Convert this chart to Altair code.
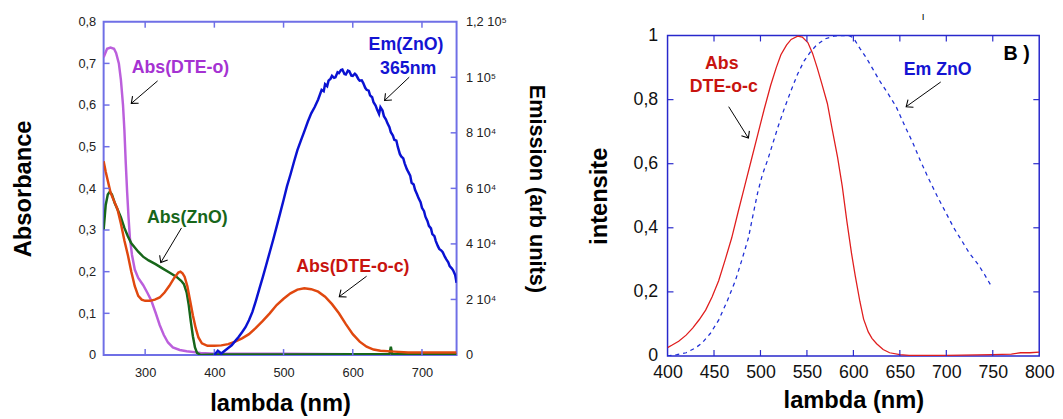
import math
import altair as alt
import pandas as pd

FONT = "Liberation Sans"

# ---------------- Left panel data ----------------
dteo_x = [240, 245, 250, 255, 258, 262, 265, 268, 270, 272, 274, 276, 278, 281, 285, 290, 297, 303, 309, 315, 321, 327, 333, 340, 350, 360, 380, 400, 500, 600, 750]
dteo_y = [0.715, 0.735, 0.738, 0.735, 0.725, 0.70, 0.66, 0.60, 0.54, 0.46, 0.39, 0.33, 0.28, 0.24, 0.205, 0.185, 0.168, 0.15, 0.13, 0.102, 0.072, 0.048, 0.03, 0.018, 0.012, 0.009, 0.005, 0.003, 0.003, 0.002, 0.002]

zno_x = [240, 243, 246, 249, 252, 256, 260, 265, 270, 275, 280, 285, 290, 297, 305, 315, 325, 335, 345, 352, 356, 360, 363, 366, 369, 372, 375, 380, 400, 500, 600, 653, 655, 657, 700, 750]
zno_y = [0.30, 0.36, 0.385, 0.392, 0.385, 0.365, 0.35, 0.33, 0.305, 0.285, 0.268, 0.258, 0.248, 0.236, 0.227, 0.218, 0.208, 0.198, 0.188, 0.178, 0.17, 0.15, 0.12, 0.08, 0.045, 0.018, 0.005, 0.0, 0.001, 0.001, 0.002, 0.002, 0.02, 0.002, 0.002, 0.002]

dteoc_x = [240, 243, 250, 255, 260, 265, 270, 275, 280, 285, 290, 295, 300, 307, 314, 321, 328, 335, 342, 348, 351, 354, 357, 361, 365, 369, 373, 377, 382, 390, 400, 410, 420, 430, 440, 450, 460, 470, 480, 490, 500, 510, 520, 530, 540, 550, 560, 570, 580, 590, 600, 610, 620, 630, 640, 660, 680, 700, 750]
dteoc_y = [0.465, 0.44, 0.39, 0.37, 0.35, 0.315, 0.275, 0.24, 0.2, 0.165, 0.142, 0.133, 0.13, 0.13, 0.133, 0.138, 0.15, 0.166, 0.185, 0.198, 0.2, 0.196, 0.188, 0.165, 0.13, 0.095, 0.065, 0.042, 0.028, 0.022, 0.022, 0.023, 0.026, 0.032, 0.04, 0.05, 0.065, 0.082, 0.1, 0.12, 0.135, 0.148, 0.157, 0.16, 0.158, 0.152, 0.14, 0.122, 0.1, 0.074, 0.05, 0.032, 0.02, 0.013, 0.01, 0.008, 0.006, 0.006, 0.006]

em_x = [400, 405, 410, 415, 420, 425, 430, 435, 440, 445, 450, 455, 460, 465, 470, 475, 480, 485, 490, 495, 500, 505, 510, 515, 520, 525, 530, 535, 540, 545, 550, 555, 558, 560, 563, 565, 568, 570, 573, 575, 578, 580, 583, 585, 588, 590, 593, 595, 598, 600, 603, 605, 608, 610, 613, 615, 618, 620, 623, 625, 628, 630, 633, 635, 638, 640, 643, 645, 648, 650, 653, 655, 658, 660, 663, 665, 668, 670, 673, 675, 678, 680, 683, 685, 688, 690, 693, 695, 698, 700, 703, 705, 708, 710, 713, 715, 718, 720, 723, 725, 728, 730, 733, 735, 738, 740, 743, 745, 748, 750]
em_y = [0, 1500, 500, 1500, 2500, 3500, 5000, 6500, 8200, 10000, 12500, 15500, 19500, 23800, 28000, 32500, 37000, 41500, 46200, 51000, 55800, 60800, 65000, 69500, 73800, 77200, 80500, 84000, 87000, 89300, 92000, 95500, 95000, 97500, 96800, 98800, 99500, 100500, 99800, 100000, 101800, 101500, 102600, 102800, 101200, 101000, 102400, 102200, 100600, 100500, 101300, 100800, 99400, 98800, 98900, 98000, 96200, 95500, 95200, 93500, 92800, 91000, 89800, 88500, 86800, 89200, 88000, 86000, 84800, 83500, 82000, 80200, 79000, 77500, 77200, 75000, 72400, 71500, 70800, 69000, 67000, 66000, 64600, 62000, 61400, 59500, 57800, 56500, 55000, 53000, 51800, 49800, 48200, 46500, 45600, 43500, 42800, 41000, 39200, 38200, 37600, 37000, 35400, 34500, 33400, 32000, 31200, 30500, 28800, 26000]

# ---------------- Right panel data ----------------
nabs_x = [400, 405, 412, 420, 427, 434, 441, 448, 455, 462, 469, 476, 483, 490, 497, 504, 511, 517, 522, 528, 533, 540, 545, 551, 556, 561, 566, 572, 577, 583, 588, 593, 598, 602, 607, 611, 616, 620, 625, 632, 639, 650, 660, 700, 750, 770, 780, 790, 800]
nabs_y = [0.026, 0.034, 0.046, 0.065, 0.087, 0.113, 0.143, 0.185, 0.235, 0.3, 0.368, 0.45, 0.53, 0.61, 0.69, 0.77, 0.845, 0.9, 0.94, 0.97, 0.988, 0.998, 0.995, 0.978, 0.945, 0.9, 0.85, 0.788, 0.71, 0.62, 0.53, 0.42, 0.32, 0.25, 0.17, 0.115, 0.075, 0.055, 0.038, 0.02, 0.01, 0.004, 0.002, 0.002, 0.004, 0.006, 0.01, 0.01, 0.012]

nem_x = [400, 410, 420, 430, 437, 446, 455, 464, 473, 480, 487, 492, 497, 502, 508, 514, 519, 526, 533, 540, 547, 554, 561, 570, 579, 588, 596, 600, 607, 614, 621, 628, 637, 646, 655, 664, 672, 681, 690, 699, 708, 717, 725, 734, 741, 748]
nem_y = [0.0, 0.004, 0.01, 0.025, 0.04, 0.07, 0.112, 0.17, 0.235, 0.3, 0.368, 0.44, 0.51, 0.565, 0.614, 0.67, 0.716, 0.775, 0.829, 0.88, 0.921, 0.95, 0.972, 0.99, 0.998, 1.0, 0.999, 0.993, 0.96, 0.93, 0.895, 0.86, 0.82, 0.778, 0.72, 0.665, 0.61, 0.553, 0.5, 0.45, 0.4, 0.358, 0.32, 0.287, 0.255, 0.22]

# tick values
left_xticks = [300, 400, 500, 600, 700]
left_yticks = [0.1, 0.2, 0.3, 0.4, 0.5, 0.6, 0.7]
em_ticks = [20000, 40000, 60000, 80000, 100000]
em_labels = {0: "0", 20000: "2 10⁴", 40000: "4 10⁴", 60000: "6 10⁴", 80000: "8 10⁴", 100000: "1 10⁵", 120000: "1,2 10⁵"}
right_xticks = [450, 500, 550, 600, 650, 700, 750]
right_yticks = [0.2, 0.4, 0.6, 0.8]

# annotations (data coordinates)
left_txt = ["Abs(DTE-o)", "Abs(ZnO)", "Em(ZnO)", "365nm", "Abs(DTE-o-c)"]
left_txt_x = [351, 361, 677, 680, 600]
left_txt_y = [0.689, 0.329, 0.743, 0.686, 0.211]
left_txt_c = ["#a532d2", "#17661a", "#1414d2", "#1414d2", "#c8140f"]
left_arr_x1 = [318, 352.5, 681.6, 620]
left_arr_y1 = [0.658, 0.305, 0.667, 0.189]
left_arr_x2 = [280, 322.6, 646, 580.5]
left_arr_y2 = [0.604, 0.222, 0.611, 0.140]

right_txt = ["Abs", "DTE-o-c", "Em ZnO", "B )", "I"]
right_txt_x = [458.4, 460.5, 690.7, 775.6, 675]
right_txt_y = [0.910, 0.839, 0.892, 0.941, 1.057]
right_txt_c = ["#c8140f", "#c8140f", "#1414d2", "#000000", "#000000"]
right_txt_s = [18, 18, 18, 20, 10]
right_txt_w = ["bold", "bold", "bold", "bold", "normal"]
right_arr_x1 = [465.8, 694]
right_arr_y1 = [0.778, 0.855]
right_arr_x2 = [487, 656.8]
right_arr_y2 = [0.680, 0.778]

# ---------------- geometry ----------------
LW, LH = 358, 338
RW = 377
RTOP, RBOT = 14, 339      # right plot frame inside its cell (top aligned with left panel)
RH = RBOT - RTOP
LX = [240, 750]
LY = [0, 0.8]
EY = [0, 120000]
RX = [400, 800]
RY = [0, 1]
LFRAME = "#6f6fe6"
RFRAME = "#2828cc"
TICK = 6

def angles(x1, y1, x2, y2, sx, sy):
    out = []
    for a, b, c, d in zip(x1, y1, x2, y2):
        dx = (c - a) * sx
        dy = -(d - b) * sy
        out.append(math.degrees(math.atan2(dx, -dy)) % 360)
    return out

lab_common = dict(labelFont=FONT, titleFont=FONT, titleFontWeight="bold", titleColor="#000",
                  labelColor="#222", ticks=False, domain=False, grid=False, labelFlush=False)

# ---------- left panel ----------
lx_axis = alt.Axis(values=left_xticks, title="lambda (nm)", labelFontSize=13, titleFontSize=24,
                   labelPadding=12, titlePadding=12, **lab_common)
ly_axis = alt.Axis(values=[0, 0.1, 0.2, 0.3, 0.4, 0.5, 0.6, 0.7, 0.8], title="Absorbance",
                   labelFontSize=13, titleFontSize=24, labelPadding=8, titlePadding=43,
                   labelExpr="datum.value == 0 ? '0' : replace(format(datum.value, '.1f'), '.', ',')",
                   **lab_common)
lxs = alt.Scale(domain=LX, nice=False, zero=False)
lys = alt.Scale(domain=LY, nice=False)

def LXe(f):
    return alt.X(f, type="quantitative", scale=lxs, axis=lx_axis)

def LYe(f):
    return alt.Y(f, type="quantitative", scale=lys, axis=ly_axis)

def line(xv, yv, color, width, xs_fn, ys_fn, dash=None):
    df = pd.DataFrame({"x": xv, "y": yv})
    kw = dict(color=color, strokeWidth=width, clip=True)
    if dash:
        kw["strokeDash"] = dash
    return alt.Chart(df).mark_line(**kw).encode(x=xs_fn("x"), y=ys_fn("y"))

l_dteo = line(dteo_x, dteo_y, "#bb5fdc", 2.5, LXe, LYe)
l_zno = line(zno_x, zno_y, "#17661a", 2.5, LXe, LYe)
l_dteoc = line(dteoc_x, dteoc_y, "#e0480f", 2.5, LXe, LYe)

ltx = pd.DataFrame({"x": left_xticks})
l_ticks_b = alt.Chart(ltx).mark_rule(color=LFRAME, strokeWidth=1.5).encode(
    x=LXe("x"), y=alt.value(LH), y2=alt.value(LH - TICK))
l_ticks_t = alt.Chart(ltx).mark_rule(color=LFRAME, strokeWidth=1.5).encode(
    x=LXe("x"), y=alt.value(0), y2=alt.value(TICK))
lty = pd.DataFrame({"y": left_yticks})
l_ticks_l = alt.Chart(lty).mark_rule(color=LFRAME, strokeWidth=1.5).encode(
    y=LYe("y"), x=alt.value(0), x2=alt.value(TICK))

ltxt = pd.DataFrame({"t": left_txt, "x": left_txt_x, "y": left_txt_y, "c": left_txt_c})
l_text = alt.Chart(ltxt).mark_text(font=FONT, fontSize=18, fontWeight="bold", baseline="middle", align="center").encode(
    x=LXe("x"), y=LYe("y"), text="t:N", color=alt.Color("c:N", scale=None))

larr = pd.DataFrame({"x": left_arr_x1, "y": left_arr_y1, "x2": left_arr_x2, "y2": left_arr_y2,
                     "a": angles(left_arr_x1, left_arr_y1, left_arr_x2, left_arr_y2, LW / 510, LH / 0.8)})
l_arr = alt.Chart(larr).mark_rule(color="#000", strokeWidth=1).encode(
    x=LXe("x"), y=LYe("y"), x2="x2:Q", y2="y2:Q")
l_head = alt.Chart(larr).mark_point(shape="M -1 1.2 L 0 0 L 1 1.2", size=90, filled=False, color="#000", strokeWidth=1.1, opacity=1).encode(
    x=LXe("x2"), y=LYe("y2"), angle=alt.Angle("a:Q", scale=None))

inner_left = alt.layer(l_dteo, l_zno, l_dteoc, l_ticks_b, l_ticks_t, l_ticks_l, l_arr, l_head, l_text)

em_expr = " : ".join([f"datum.value == {k} ? '{v}'" for k, v in em_labels.items()]) + " : ''"
ey_axis = alt.Axis(values=list(em_labels.keys()), orient="right", title="Emission (arb units)",
                   labelFontSize=13, titleFontSize=22, labelPadding=9, titlePadding=18,
                   labelExpr=em_expr, **lab_common)
eys = alt.Scale(domain=EY, nice=False)

def EYe(f):
    return alt.Y(f, type="quantitative", scale=eys, axis=ey_axis)

l_em = line(em_x, em_y, "#0a12d2", 2.5, LXe, EYe)
e_ticks = alt.Chart(pd.DataFrame({"y": em_ticks})).mark_rule(color=LFRAME, strokeWidth=1.5).encode(
    y=EYe("y"), x=alt.value(LW - TICK), x2=alt.value(LW))

em_layer = alt.layer(l_em, e_ticks)

left = alt.layer(inner_left, em_layer).resolve_scale(y="independent").properties(
    width=LW, height=LH, view=alt.ViewBackground(stroke=LFRAME, strokeWidth=2))

# ---------- right panel ----------
rx_axis = alt.Axis(values=[400, 450, 500, 550, 600, 650, 700, 750, 800], title="lambda (nm)", labelFontSize=18,
                   titleFontSize=24, labelPadding=8, titlePadding=7, labelColor="#111", labelFont=FONT,
                   titleFont=FONT, titleFontWeight="bold", titleColor="#000", ticks=False, domain=False,
                   grid=False, labelFlush=False)
ry_axis = alt.Axis(values=[0, 0.2, 0.4, 0.6, 0.8, 1], title="intensite", labelFontSize=18, titleFontSize=24,
                   labelPadding=10, titlePadding=22, labelColor="#111", labelFont=FONT, titleFont=FONT,
                   titleFontWeight="bold", titleColor="#000", ticks=False, domain=False, grid=False,
                   labelFlush=False,
                   labelExpr="datum.value == 0 ? '0' : datum.value == 1 ? '1' : replace(format(datum.value, '.1f'), '.', ',')")
rxs = alt.Scale(domain=RX, nice=False, zero=False)
rys = alt.Scale(domain=RY, nice=False, range=[RBOT, RTOP])

def RXe(f):
    return alt.X(f, type="quantitative", scale=rxs, axis=rx_axis)

def RYe(f):
    return alt.Y(f, type="quantitative", scale=rys, axis=ry_axis)

r_abs = line(nabs_x, nabs_y, "#e01e1e", 1.3, RXe, RYe)
r_em = line(nem_x, nem_y, "#1f2fd6", 1.3, RXe, RYe, dash=[4, 4])

r_frame = alt.Chart(pd.DataFrame({"k": [0]})).mark_rect(filled=False, stroke=RFRAME, strokeWidth=1.5).encode(
    x=alt.value(0), x2=alt.value(RW), y=alt.value(RTOP), y2=alt.value(RBOT))

rtx = pd.DataFrame({"x": right_xticks})
rty = pd.DataFrame({"y": right_yticks})
r_tb = alt.Chart(rtx).mark_rule(color=RFRAME, strokeWidth=1.2).encode(x=RXe("x"), y=alt.value(RBOT), y2=alt.value(RBOT - TICK))
r_tt = alt.Chart(rtx).mark_rule(color=RFRAME, strokeWidth=1.2).encode(x=RXe("x"), y=alt.value(RTOP), y2=alt.value(RTOP + TICK))
r_tl = alt.Chart(rty).mark_rule(color=RFRAME, strokeWidth=1.2).encode(y=RYe("y"), x=alt.value(0), x2=alt.value(TICK))
r_tr = alt.Chart(rty).mark_rule(color=RFRAME, strokeWidth=1.2).encode(y=RYe("y"), x=alt.value(RW - TICK), x2=alt.value(RW))

rtxt = pd.DataFrame({"t": right_txt, "x": right_txt_x, "y": right_txt_y, "c": right_txt_c,
                     "s": right_txt_s, "w": right_txt_w})
r_text_b = alt.Chart(rtxt[rtxt.w == "bold"]).mark_text(font=FONT, fontWeight="bold", baseline="middle", align="center").encode(
    x=RXe("x"), y=RYe("y"), text="t:N", color=alt.Color("c:N", scale=None), size=alt.Size("s:Q", scale=None))
r_text_n = alt.Chart(rtxt[rtxt.w == "normal"]).mark_text(font=FONT, fontSize=10, baseline="middle", align="center").encode(
    x=RXe("x"), y=RYe("y"), text="t:N", color=alt.Color("c:N", scale=None))

rarr = pd.DataFrame({"x": right_arr_x1, "y": right_arr_y1, "x2": right_arr_x2, "y2": right_arr_y2,
                     "a": angles(right_arr_x1, right_arr_y1, right_arr_x2, right_arr_y2, RW / 400, RH / 1)})
r_arr = alt.Chart(rarr).mark_rule(color="#000", strokeWidth=1).encode(x=RXe("x"), y=RYe("y"), x2="x2:Q", y2="y2:Q")
r_head = alt.Chart(rarr).mark_point(shape="M -1 1.2 L 0 0 L 1 1.2", size=90, filled=False, color="#000", strokeWidth=1.1, opacity=1).encode(
    x=RXe("x2"), y=RYe("y2"), angle=alt.Angle("a:Q", scale=None))

right = alt.layer(r_frame, r_abs, r_em, r_tb, r_tt, r_tl, r_tr, r_arr, r_head, r_text_b, r_text_n).properties(
    width=RW, height=RBOT, view=alt.ViewBackground(stroke=None))

chart = alt.hconcat(left, right, spacing=39).properties(
    padding={"left": 2, "top": 1, "right": 0, "bottom": 0}, background="white")

chart.save("out.html", embed_options={"renderer": "svg", "actions": False})
